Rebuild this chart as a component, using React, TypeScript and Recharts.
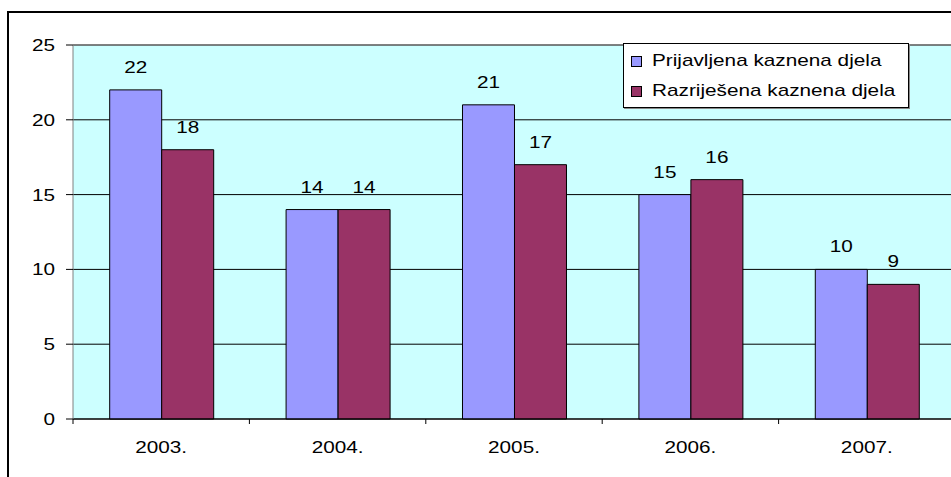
import React from 'react';
import { BarChart, Bar, XAxis, YAxis, CartesianGrid, Legend, LabelList, ReferenceLine } from 'recharts';

const categories = ['2003.', '2004.', '2005.', '2006.', '2007.'];
const prijavljena = [22, 14, 21, 15, 10];
const razrijesena = [18, 14, 17, 16, 9];
const yTicks = [0, 5, 10, 15, 20, 25];
const seriesNames = ['Prijavljena kaznena djela', 'Razriješena kaznena djela'];
const colors = ['#9999FF', '#993366'];

const data = categories.map((c, i) => ({ year: c, a: prijavljena[i], b: razrijesena[i] }));

const FONT = '"Liberation Sans", Arial, sans-serif';
const SX = 1.22;
const FS = 17;
const CHART_W = 951;
const PLOT_LEFT = 73;
const PLOT_RIGHT = 955;
const BW = (PLOT_RIGHT - PLOT_LEFT) / categories.length;

const SText = ({ x, y, anchor, children }: any) => (
  <text
    transform={`translate(${x},${y}) scale(${SX},1)`}
    textAnchor={anchor}
    fontSize={FS}
    fontFamily={FONT}
    fill="#000"
  >
    {children}
  </text>
);

const YTick = (props: any) => {
  const { x, y, payload } = props;
  return <SText x={x} y={y + 6} anchor="end">{payload.value}</SText>;
};

const XTick = (props: any) => {
  const { x, y, payload } = props;
  const axisY = y - 5;
  return (
    <g>
      <line x1={x - BW / 2} x2={x - BW / 2} y1={axisY} y2={axisY + 5} stroke="#000" strokeWidth={1} />
      <SText x={x} y={axisY + 34} anchor="middle">{payload.value}</SText>
    </g>
  );
};

const BarLabel = (props: any) => {
  const { x, y, width, value } = props;
  return <SText x={x + width / 2} y={y - 17} anchor="middle">{value}</SText>;
};

const LegendBox = () => (
  <div
    style={{
      width: 286,
      height: 65,
      boxSizing: 'border-box',
      border: '1px solid #000',
      background: '#fff',
      position: 'relative',
      fontFamily: FONT,
      fontSize: FS,
      boxShadow: '1px 1px 0 #888',
    }}
  >
    {seriesNames.map((n, i) => (
      <div key={n}>
        <div
          style={{
            position: 'absolute',
            left: 7,
            top: 12 + i * 30,
            width: 9,
            height: 9,
            background: colors[i],
            border: '1px solid #000',
          }}
        />
        <div
          style={{
            position: 'absolute',
            left: 28,
            top: 7 + i * 30,
            lineHeight: '20px',
            whiteSpace: 'nowrap',
            transform: `scaleX(${SX})`,
            transformOrigin: 'left center',
            color: '#000',
          }}
        >
          {n}
        </div>
      </div>
    ))}
  </div>
);

export default function App() {
  return (
    <div style={{ position: 'absolute', left: 0, top: 0, width: 951, height: 477, background: '#fff', overflow: 'hidden' }}>
      <BarChart
        width={CHART_W}
        height={477}
        data={data}
        margin={{ top: 45, right: CHART_W - PLOT_RIGHT, bottom: 28, left: PLOT_LEFT - 60 }}
        barCategoryGap="20.8%"
        barGap={0}
        style={{ overflow: 'hidden' }}
      >
        <CartesianGrid vertical={false} stroke="#000" fill="#CCFFFF" fillOpacity={1} />
        <XAxis
          dataKey="year"
          height={30}
          tickLine={false}
          tickSize={5}
          tickMargin={0}
          axisLine={{ stroke: '#000' }}
          tick={<XTick />}
          interval={0}
        />
        <YAxis
          width={60}
          domain={[0, 25]}
          ticks={yTicks}
          interval={0}
          tickSize={7}
          tickMargin={11}
          axisLine={{ stroke: '#808080' }}
          tickLine={{ stroke: '#000' }}
          tick={<YTick />}
        />
        <ReferenceLine y={25} stroke="#808080" />
        <Legend
          layout="horizontal"
          verticalAlign="middle"
          align="center"
          content={<LegendBox />}
          wrapperStyle={{ position: 'absolute', left: 623, top: 43, width: 286, height: 65 }}
        />
        <Bar dataKey="a" name={seriesNames[0]} fill={colors[0]} stroke="#000" strokeWidth={1} isAnimationActive={false}>
          <LabelList dataKey="a" content={<BarLabel />} />
        </Bar>
        <Bar dataKey="b" name={seriesNames[1]} fill={colors[1]} stroke="#000" strokeWidth={1} isAnimationActive={false}>
          <LabelList dataKey="b" content={<BarLabel />} />
        </Bar>
      </BarChart>
      <div
        style={{
          position: 'absolute',
          left: 7,
          top: 11,
          width: 1000,
          height: 1000,
          borderTop: '2px solid #000',
          borderLeft: '2px solid #000',
          pointerEvents: 'none',
        }}
      />
    </div>
  );
}
